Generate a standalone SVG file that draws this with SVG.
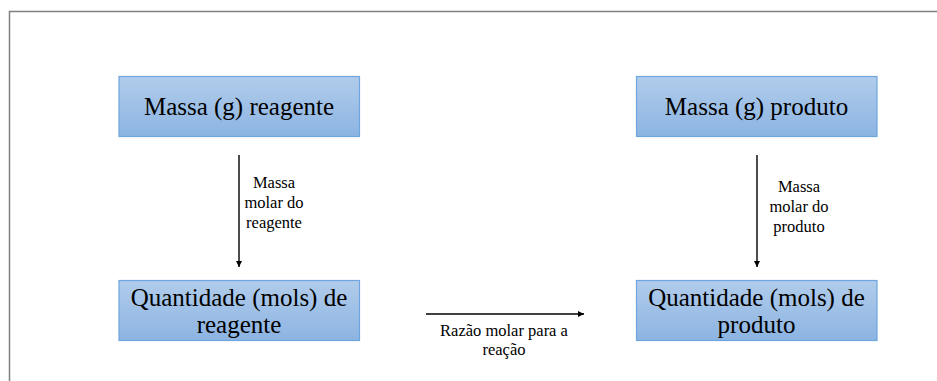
<svg xmlns="http://www.w3.org/2000/svg" width="937" height="381" viewBox="0 0 937 381">
<style>
.box{fill:url(#g);stroke:#6fa5de;stroke-width:1.2}
.bt{font-size:25px;fill:#000;text-anchor:middle}
.lt{font-size:16.5px;fill:#000;text-anchor:middle}
.ar{stroke:#000;stroke-width:1.4;fill:none;marker-end:url(#ah)}
</style>
<defs>
<linearGradient id="g" x1="0" y1="0" x2="0" y2="1">
<stop offset="0" stop-color="#b1cceb"/>
<stop offset="1" stop-color="#8cb4e2"/>
</linearGradient>
<marker id="ah" viewBox="0 0 10 10" refX="10" refY="5" markerWidth="6" markerHeight="6" markerUnits="userSpaceOnUse" orient="auto">
<path d="M0,0 L10,5 L0,10 z" fill="#000"/>
</marker>
</defs>
<rect width="937" height="381" fill="#fff"/>
<path d="M9.5,390 V11.5 H945" fill="none" stroke="#808080" stroke-width="1.5"/>
<g id="connectors" font-family="Liberation Serif, DejaVu Serif, serif">
<line class="ar" x1="239" y1="155" x2="239" y2="267"/>
<line class="ar" x1="757" y1="155" x2="757" y2="267"/>
<line class="ar" x1="426" y1="314" x2="584" y2="314"/>
<text class="lt" x="274" y="188">Massa</text>
<text class="lt" x="274" y="208">molar do</text>
<text class="lt" x="274" y="228">reagente</text>
<text class="lt" x="799" y="192">Massa</text>
<text class="lt" x="799" y="212">molar do</text>
<text class="lt" x="799" y="232">produto</text>
<text class="lt" x="504" y="336">Razão molar para a</text>
<text class="lt" x="504" y="355">reação</text>
</g>
<g id="nodes" font-family="Liberation Serif, DejaVu Serif, serif">
<g id="massa-reagente">
<rect class="box" x="119" y="76.5" width="240.5" height="60"/>
<text class="bt" x="239" y="115">Massa (g) reagente</text>
</g>
<g id="massa-produto">
<rect class="box" x="636.5" y="76.5" width="240.5" height="60"/>
<text class="bt" x="756.5" y="114.5">Massa (g) produto</text>
</g>
<g id="mols-reagente">
<rect class="box" x="119" y="280.5" width="240.5" height="60"/>
<text class="bt" x="239" y="305.5">Quantidade (mols) de</text>
<text class="bt" x="239" y="333">reagente</text>
</g>
<g id="mols-produto">
<rect class="box" x="636.5" y="280.5" width="240.5" height="60"/>
<text class="bt" x="756.5" y="305.5">Quantidade (mols) de</text>
<text class="bt" x="756.5" y="333">produto</text>
</g>
</g>
</svg>
